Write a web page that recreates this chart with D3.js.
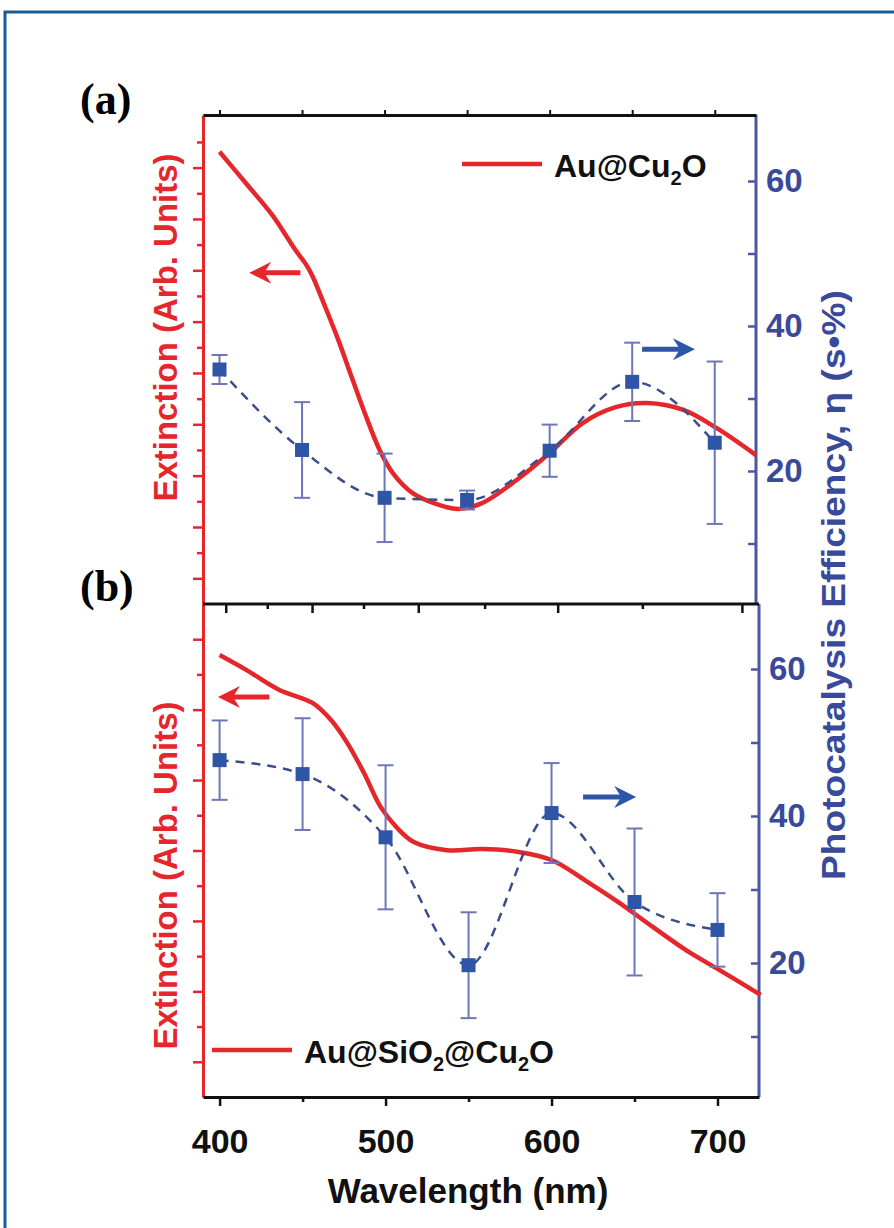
<!DOCTYPE html>
<meta charset="utf-8">
<script src="https://d3js.org/d3.v7.min.js"></script>
<style>
  body { margin: 0; background: #fff; }
  svg text { font-family: 'Liberation Sans', Arial, sans-serif; font-weight: bold; }
  svg text.letter { font-family: 'Liberation Serif', 'Times New Roman', serif; }
  .axis .domain { stroke-width: 3; }
</style>
<body>
<svg width="894" height="1228"></svg>
</body>
<script>

// wavelengths of the photocatalysis measurements (nm)
var wavelengths = [400, 450, 500, 550, 600, 650, 700];

// panel (a) Au@Cu2O : efficiency (s·%) and error
var effA = [34.0, 22.9, 16.3, 16.0, 22.8, 32.3, 23.9];
var errA = [2.0, 6.6, 6.1, 1.3, 3.6, 5.4, 11.2];

// panel (b) Au@SiO2@Cu2O : efficiency (s·%) and error
var effB = [47.6, 45.7, 37.1, 19.7, 40.4, 28.3, 24.5];
var errB = [5.4, 7.6, 9.8, 7.2, 6.8, 10.0, 5.0];

// extinction spectra (arb. units)
var extWlA = [400, 416, 432, 446, 452, 456, 464, 472, 480, 488, 497, 505, 517, 533, 545, 559, 580, 600, 620, 640, 659, 681, 701, 725];
var extA   = [1.762, 1.639, 1.515, 1.379, 1.327, 1.282, 1.158, 1.028, 0.885, 0.744, 0.600, 0.510, 0.432, 0.386, 0.370, 0.393, 0.483, 0.588, 0.705, 0.767, 0.783, 0.756, 0.686, 0.580];
var extWlB = [400, 416, 436, 456, 467, 477, 487, 497, 507, 517, 537, 558, 580, 600, 620, 640, 661, 681, 701, 726];
var extB   = [1.255, 1.213, 1.156, 1.119, 1.071, 1.005, 0.920, 0.824, 0.764, 0.724, 0.701, 0.704, 0.696, 0.673, 0.616, 0.554, 0.483, 0.417, 0.361, 0.290];

// axis ticks
var xTicks = [400, 450, 500, 550, 600, 650, 700];
var xLabels = [400, 500, 600, 700];
var effTicks = [10, 20, 30, 40, 50, 60];
var effLabels = [20, 40, 60];
var extTicksA = d3.range(1, 19).map(function(i) { return i / 10; });
var extTicksB = d3.range(1, 14).map(function(i) { return i / 10; });
// odd axis between the panels (wavelength positions of its ticks)
var midTicksMajor = [404, 456, 520, 604, 715];
var midTicksMinor = [429, 487, 560, 655];

// arrows: [from wl, to wl, value]
var arrowsA = [{side: "ext", x0: 449, x1: 418, v: 1.29}, {side: "eff", x0: 656, x1: 688, v: 36.8}];
var arrowsB = [{side: "ext", x0: 430, x1: 399, v: 1.136}, {side: "eff", x0: 619, x1: 651, v: 42.6}];

var RED = "#e5262b", BLUE = "#2f56a6", ERR = "#6d77b8", DASH = "#3c4d8e", RAX = "#4a58a3", BTXT = "#3a4a9a";

var svg = d3.select("svg");

// frame
svg.append("path").attr("d", "M5,1228 V12 H894").attr("fill", "none")
  .attr("stroke", "#1c5a98").attr("stroke-width", 3);

var panels = [
  {x0: 203, x1: 756, y0: 115, y1: 604, extDom: [0, 1.905], eff: effA, err: errA,
   extWl: extWlA, ext: extA, extTicks: extTicksA, effY: [471, 181], arrows: arrowsA},
  {x0: 203, x1: 759, y0: 604, y1: 1097, extDom: [0, 1.4], eff: effB, err: errB,
   extWl: extWlB, ext: extB, extTicks: extTicksB, effY: [963, 669], arrows: arrowsB}
];

panels.forEach(function(p, pi) {
  var x = d3.scaleLinear().domain([390, 725]).range([p.x0, p.x1]);
  var yExt = d3.scaleLinear().domain(p.extDom).range([p.y1, p.y0]);
  var yEff = d3.scaleLinear().domain([20, 60]).range(p.effY);
  var g = svg.append("g");

  // left (extinction) axis, outward ticks alternating long/short
  var la = g.append("g").attr("class", "axis")
    .attr("transform", "translate(" + p.x0 + ",0)")
    .call(d3.axisLeft(yExt).tickValues(p.extTicks).tickFormat("").tickSize(9).tickSizeOuter(0));
  la.select(".domain").attr("stroke", RED).attr("stroke-width", 3);
  la.selectAll(".tick line").attr("stroke", RED).attr("stroke-width", 2.5)
    .attr("x2", function(d, i) { return i % 2 === 0 ? -10 : -6; });

  // right (efficiency) axis, inward ticks
  var ra = g.append("g").attr("class", "axis")
    .attr("transform", "translate(" + p.x1 + ",0)")
    .call(d3.axisRight(yEff).tickValues(effTicks).tickSize(-8).tickSizeOuter(0)
      .tickFormat(function(d) { return effLabels.indexOf(d) >= 0 ? d : ""; }));
  ra.select(".domain").attr("stroke", RAX).attr("stroke-width", 2.5)
    .attr("d", "M0," + p.y0 + "V" + p.y1);
  ra.selectAll(".tick line").attr("stroke", RAX).attr("stroke-width", 2.5);
  ra.selectAll(".tick text").attr("x", 10).attr("fill", BTXT)
    .attr("font-size", 33).attr("font-family", "'Liberation Sans', Arial, sans-serif");

  if (pi === 0) {
    // top axis, short outward ticks
    var ta = g.append("g").attr("class", "axis")
      .attr("transform", "translate(0," + p.y0 + ")")
      .call(d3.axisTop(x).tickValues(xTicks).tickFormat("").tickSize(5).tickSizeOuter(0));
    ta.select(".domain").attr("stroke", "#111").attr("stroke-width", 3);
    ta.selectAll(".tick line").attr("stroke", "#111").attr("stroke-width", 2);
  } else {
    // line between the panels with inward ticks
    var ma = g.append("g").attr("class", "axis")
      .attr("transform", "translate(0," + p.y0 + ")");
    ma.append("line").attr("x1", p.x0).attr("x2", p.x1).attr("stroke", "#111").attr("stroke-width", 3);
    ma.selectAll(".maj").data(midTicksMajor).enter().append("line")
      .attr("x1", x).attr("x2", x).attr("y1", 0).attr("y2", 9)
      .attr("stroke", "#111").attr("stroke-width", 2.5);
    ma.selectAll(".min").data(midTicksMinor).enter().append("line")
      .attr("x1", x).attr("x2", x).attr("y1", 0).attr("y2", 5)
      .attr("stroke", "#111").attr("stroke-width", 2.5);

    // bottom axis
    var ba = g.append("g").attr("class", "axis")
      .attr("transform", "translate(0," + p.y1 + ")")
      .call(d3.axisBottom(x).tickValues(xTicks).tickSize(9).tickSizeOuter(0)
        .tickFormat(function(d) { return xLabels.indexOf(d) >= 0 ? d : ""; }));
    ba.select(".domain").attr("stroke", "#111").attr("stroke-width", 3);
    ba.selectAll(".tick line").attr("stroke", "#111").attr("stroke-width", 2.5)
      .attr("y2", function(d) { return xLabels.indexOf(d) >= 0 ? 9 : 5; });
    ba.selectAll(".tick text").attr("y", 56).attr("dy", null).attr("fill", "#111")
      .attr("font-size", 34).attr("font-family", "'Liberation Sans', Arial, sans-serif");
  }

  // extinction curve
  g.append("path")
    .datum(p.extWl.map(function(w, i) { return [w, p.ext[i]]; }))
    .attr("fill", "none").attr("stroke", RED).attr("stroke-width", 4.5)
    .attr("d", d3.line().curve(d3.curveCatmullRom)
      .x(function(d) { return x(d[0]); }).y(function(d) { return yExt(d[1]); }));

  // dashed efficiency line
  g.append("path")
    .datum(wavelengths.map(function(w, i) { return [w, p.eff[i]]; }))
    .attr("fill", "none").attr("stroke", DASH).attr("stroke-width", 2.5)
    .attr("stroke-dasharray", "9,7")
    .attr("d", d3.line().curve(d3.curveMonotoneX)
      .x(function(d) { return x(d[0]); }).y(function(d) { return yEff(d[1]); }));

  // error bars
  var eb = g.selectAll(".eb").data(wavelengths).enter().append("g").attr("stroke", ERR).attr("stroke-width", 2);
  eb.append("line").attr("x1", x).attr("x2", x)
    .attr("y1", function(d, i) { return yEff(p.eff[i] + p.err[i]); })
    .attr("y2", function(d, i) { return yEff(p.eff[i] - p.err[i]); });
  eb.append("line").attr("x1", function(d) { return x(d) - 8; }).attr("x2", function(d) { return x(d) + 8; })
    .attr("y1", function(d, i) { return yEff(p.eff[i] + p.err[i]); })
    .attr("y2", function(d, i) { return yEff(p.eff[i] + p.err[i]); });
  eb.append("line").attr("x1", function(d) { return x(d) - 8; }).attr("x2", function(d) { return x(d) + 8; })
    .attr("y1", function(d, i) { return yEff(p.eff[i] - p.err[i]); })
    .attr("y2", function(d, i) { return yEff(p.eff[i] - p.err[i]); });

  // square markers
  g.selectAll(".pt").data(wavelengths).enter().append("rect")
    .attr("x", function(d) { return x(d) - 7; })
    .attr("y", function(d, i) { return yEff(p.eff[i]) - 7; })
    .attr("width", 14).attr("height", 14).attr("fill", BLUE);

  // arrows
  p.arrows.forEach(function(a) {
    var yy = a.side === "ext" ? yExt(a.v) : yEff(a.v);
    var xs = x(a.x0), xe = x(a.x1), dir = xe > xs ? 1 : -1;
    var col = a.side === "ext" ? RED : BLUE;
    g.append("line").attr("x1", xs).attr("x2", xe - dir * 8).attr("y1", yy).attr("y2", yy)
      .attr("stroke", col).attr("stroke-width", 5);
    g.append("path").attr("fill", col)
      .attr("d", "M" + xe + "," + yy + " L" + (xe - dir * 22) + "," + (yy - 11) +
        " L" + (xe - dir * 15) + "," + yy + " L" + (xe - dir * 22) + "," + (yy + 11) + "Z");
  });

  // left axis title
  var cy = (p.y0 + p.y1) / 2 - (pi === 0 ? 32 : -25);
  g.append("text").attr("transform", "translate(177," + cy + ") rotate(-90)")
    .attr("text-anchor", "middle").attr("fill", RED).attr("font-size", 33)
    .attr("textLength", 348).attr("lengthAdjust", "spacingAndGlyphs")
    .text("Extinction (Arb. Units)");
});

// panel letters
svg.append("text").attr("class", "letter").attr("x", 80).attr("y", 114)
  .attr("font-size", 44).attr("fill", "#000").text("(a)");
svg.append("text").attr("class", "letter").attr("x", 80).attr("y", 601)
  .attr("font-size", 44).attr("fill", "#000").text("(b)");

// right axis title
svg.append("text").attr("transform", "translate(845,585) rotate(-90)")
  .attr("text-anchor", "middle").attr("fill", BTXT).attr("font-size", 34)
  .attr("textLength", 590).attr("lengthAdjust", "spacingAndGlyphs")
  .text("Photocatalysis Efficiency, \u03b7 (s\u2022%)");

// x axis title
svg.append("text").attr("x", 468).attr("y", 1203).attr("text-anchor", "middle")
  .attr("fill", "#111").attr("font-size", 35).text("Wavelength (nm)");

// legends
function legend(x0, y0, parts) {
  svg.append("line").attr("x1", x0).attr("x2", x0 + 80).attr("y1", y0).attr("y2", y0)
    .attr("stroke", RED).attr("stroke-width", 4.5);
  var t = svg.append("text").attr("x", x0 + 92).attr("y", y0 + 13).attr("fill", "#111").attr("font-size", 32);
  var prevSub = false;
  parts.forEach(function(s) {
    if (s === "2") {
      t.append("tspan").attr("font-size", 20).attr("dy", 8).text(s);
      prevSub = true;
    } else {
      t.append("tspan").attr("font-size", 32).attr("dy", prevSub ? -8 : 0).text(s);
      prevSub = false;
    }
  });
}
legend(462, 164, ["Au@Cu", "2", "O"]);
legend(212, 1050, ["Au@SiO", "2", "@Cu", "2", "O"]);

</script>
